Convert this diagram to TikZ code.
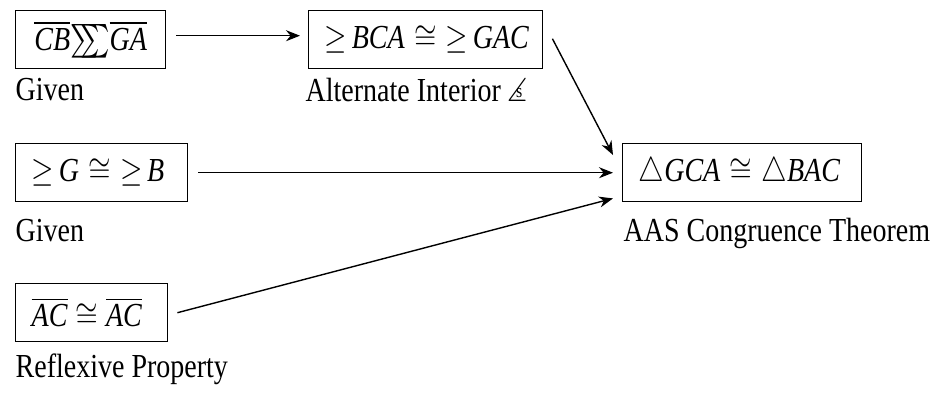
\documentclass[tikz,border=0pt]{standalone}
\usepackage{fontspec}
\setmainfont{Liberation Serif}
\usepackage{amssymb}
\usepackage{graphicx}
\usetikzlibrary{arrows.meta}
\newcommand{\tallt}[1]{\scalebox{1}[1.2]{#1}}

\begin{document}
\begin{tikzpicture}[x=0.5pt, y=-0.5pt, line width=0.7pt,
    font=\fontsize{14}{17}\selectfont,
    stmt/.style={draw, anchor=north west, minimum height=29pt, inner xsep=8pt, align=left},
    reason/.style={anchor=base west, inner sep=0pt},
    >={Stealth[length=7pt, width=5.5pt]}]
    \useasboundingbox (0, 0) rectangle (947, 393);

    \node[stmt, text width=59pt, align=center] (par) at (15, 10) {\tallt{$\overline{\mbox{\textit{CB}}}{\sum}\kern-0.7em{\sum}\overline{\mbox{\textit{GA}}}$}};
    \node[stmt, text width=101pt] (alt) at (308, 10) {\tallt{$\geq$\,\textit{BCA} $\cong$ $\geq$\,\textit{GAC}}};
    \node[stmt, text width=70pt] (ang) at (15, 143) {\tallt{$\geq$\,\textit{G} $\cong$ $\geq$\,\textit{B}}};
    \node[stmt, text width=60pt] (refl) at (15, 283) {\tallt{$\overline{\mbox{\textit{AC}}}\cong\overline{\mbox{\textit{AC}}}$}};
    \node[stmt, text width=103.5pt] (aas) at (622, 143) {\tallt{$\triangle$\textit{GCA} $\cong$ $\triangle$\textit{BAC}}};

    \node[reason] (parwhy) at (15, 100) {\tallt{Given}};
    \node[reason] (altwhy) at (305, 101) {\tallt{Alternate Interior \rlap{$\angle$}\hspace{0.3em}\raisebox{0.1em}{\footnotesize s}}};
    \node[reason] (angwhy) at (15, 241) {\tallt{Given}};
    \node[reason] (reflwhy) at (15, 377) {\tallt{Reflexive Property}};
    \node[reason] (aaswhy) at (623, 241) {\tallt{AAS Congruence Theorem}};

    \draw[->] ([xshift=5pt, yshift=2pt]par.east) -- ([xshift=-4pt, yshift=2pt]alt.west);
    \draw[->] ([xshift=4.5pt, yshift=0.5pt]alt.east) -- ([xshift=-4.5pt, yshift=-6pt]aas.north west);
    \draw[->] ([xshift=5pt]ang.east) -- ([xshift=-4.5pt]aas.west);
    \draw[->] ([xshift=4.5pt]refl.east) -- ([xshift=-4.5pt, yshift=2pt]aas.south west);
\end{tikzpicture}
\end{document}
